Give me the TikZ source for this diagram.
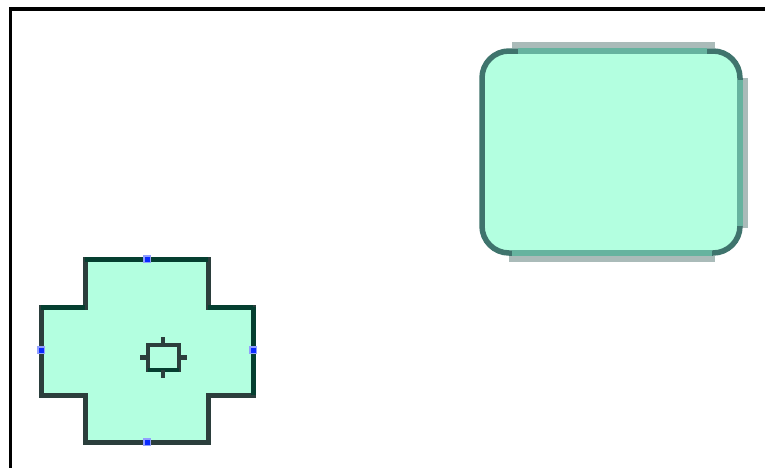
\documentclass[tikz,border=0pt]{standalone}
\usepackage{xcolor}
\usepackage{tikz}
\definecolor{ShapeMint}{HTML}{B3FFE0}
\definecolor{CrossEdge}{HTML}{2B3E3C}
\definecolor{CrossTop}{HTML}{053F30}
\definecolor{BoxEdge}{HTML}{66B39F}
\definecolor{BoxEdgeDark}{HTML}{3F746D}
\definecolor{BoxShade}{HTML}{AABBB9}
\definecolor{HandleBlue}{HTML}{0A2AFF}

\begin{document}
\begin{tikzpicture}[x=1pt,y=-1pt]
  \useasboundingbox (0,0) rectangle (765,467);
  \fill[white] (0,0) rectangle (765,467);
  \draw[black, line width=3.3pt] (10.5,475) -- (10.5,9) -- (775,9);

  \draw[BoxShade, line width=5.5pt] (512,45) -- (715,45);
  \draw[BoxShade, line width=5.5pt] (745,78) -- (745,228);
  \draw[BoxShade, line width=5.5pt] (509,259) -- (715,259);
  \draw[BoxEdgeDark, fill=ShapeMint, line width=5.5pt, rounded corners=27pt] (482,51) rectangle (740,253);
  \draw[BoxEdge, line width=5.5pt] (518,51) -- (707,51);
  \draw[BoxEdge, line width=5.5pt] (740,80) -- (740,226);
  \draw[BoxEdge, line width=5.5pt] (512,253) -- (712,253);

  \draw[CrossEdge, fill=ShapeMint, line width=5pt] (85,259) -- (208,259) -- (208,307) -- (253,307)
    -- (253,395) -- (208,395) -- (208,442) -- (85,442) -- (85,395) -- (41,395) -- (41,307) -- (85,307) -- cycle;
  \foreach \s/\e in {{(85,259)}/{(208,259)},{(41,307)}/{(85,307)},{(208,307)}/{(253,307)},{(253,307)}/{(253,395)}} {
    \draw[CrossTop, line width=5pt] \s -- \e;
  }

  \draw[CrossEdge, line width=4.5pt] (148,345) rectangle (179,370);
  \draw[CrossTop, line width=4.5pt] (148,370) -- (179,370);
  \foreach \s/\e in {{(163,337)}/{(163,345)},{(163,370)}/{(163,378)},{(140,357.5)}/{(148,357.5)},{(179,357.5)}/{(187,357.5)}} {
    \draw[CrossEdge, line width=4.5pt] \s -- \e;
  }

  \foreach \p in {(147,259),(147,442),(41,350),(253,350)} {
    \fill[HandleBlue!45] \p ++(-4,-4) rectangle ++(8,8);
    \fill[HandleBlue] \p ++(-2.5,-2.5) rectangle ++(5,5);
  }
\end{tikzpicture}
\end{document}
